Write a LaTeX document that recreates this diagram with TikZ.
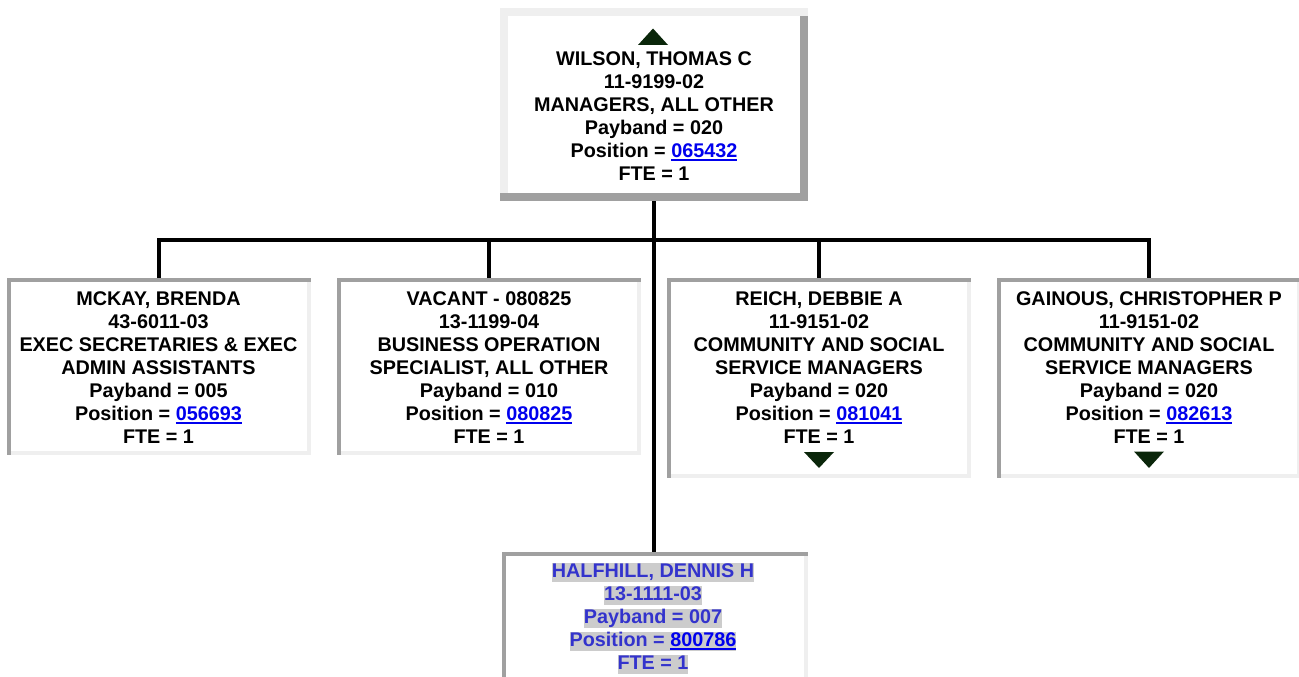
\documentclass[tikz,border=0pt]{standalone}
\usepackage{fontspec}
\setmainfont{Liberation Sans}
\definecolor{darkb}{HTML}{A0A0A0}
\definecolor{lightb}{HTML}{EFEFEF}
\definecolor{linkblue}{HTML}{0000EE}
\definecolor{hltext}{HTML}{3333CC}
\definecolor{hlgray}{HTML}{CCCCCC}
\definecolor{arrowgreen}{HTML}{0A260A}
\newsavebox\lnkbox
\newcommand\lnk[1]{\sbox\lnkbox{\color{linkblue}#1}{\color{linkblue}\rlap{\rule[-4pt]{\wd\lnkbox}{2pt}}}\usebox\lnkbox}
\newcommand\hlline[1]{{\setlength{\fboxsep}{0pt}\colorbox{hlgray}{\rule[-5pt]{0pt}{19pt}#1}}}
\newcommand\fs{\rule{0pt}{15pt}}
\begin{document}
\begin{tikzpicture}[x=1pt,y=-1pt,
  txt/.style={font=\fontsize{19.8}{23}\selectfont\bfseries, align=center, inner sep=0pt, outer sep=0pt, anchor=north},
  childbox/.style={minimum width=304pt, inner sep=0pt, outer sep=0pt, fill=white,
    path picture={
      \fill[lightb] (path picture bounding box.south west) rectangle ([yshift=4pt]path picture bounding box.south east);
      \fill[lightb] ([xshift=-4pt]path picture bounding box.south east) rectangle (path picture bounding box.north east);
      \fill[darkb] (path picture bounding box.north west) rectangle ([yshift=-4pt]path picture bounding box.north east);
      \fill[darkb] (path picture bounding box.north west) rectangle ([xshift=4pt]path picture bounding box.south west);
    }},
  topbox/.style={minimum width=308pt, minimum height=193pt, inner sep=0pt, outer sep=0pt, fill=white,
    path picture={
      \fill[lightb] (path picture bounding box.north west) rectangle ([yshift=-8pt]path picture bounding box.north east);
      \fill[lightb] (path picture bounding box.north west) rectangle ([xshift=8pt]path picture bounding box.south west);
      \fill[darkb] ([xshift=-8pt,yshift=-8pt]path picture bounding box.north east) rectangle (path picture bounding box.south east);
      \fill[darkb] (path picture bounding box.south west) rectangle ([yshift=8pt]path picture bounding box.south east);
    }},
  conn/.style={line width=4pt, black, line join=miter},
  tri/.style={fill=arrowgreen}
]
\clip (0,0) rectangle (1299,677);
\fill[white] (0,0) rectangle (1299,677);

% boxes
\node[topbox] (top) at (654,104.5) {};
\node[childbox, minimum height=177pt] (b1) at (159,366.5) {};
\node[childbox, minimum height=177pt] (b2) at (489,366.5) {};
\node[childbox, minimum height=200pt] (b3) at (819,378) {};
\node[childbox, minimum height=200pt] (b4) at (1149,378) {};
\node[childbox, minimum width=306pt, minimum height=200pt] (b5) at (655,652) {};

% connectors
\coordinate (bus) at (654,239.5);
\draw[conn] (top.south) -- (top.south |- b5.north);
\draw[conn] (b1.north) |- (bus) -| (b4.north);
\draw[conn] (b2.north) -- (b2.north |- bus);
\draw[conn] (b3.north) -- (b3.north |- bus);

% texts
\node[txt] (t0) at (654,50) {\fs WILSON, THOMAS C\\11-9199-02\\MANAGERS, ALL OTHER\\Payband = 020\\Position = \lnk{065432}\\FTE = 1};
\node[txt] (t1) at (158.5,290) {\fs MCKAY, BRENDA\\43-6011-03\\EXEC SECRETARIES \& EXEC\\ADMIN ASSISTANTS\\Payband = 005\\Position = \lnk{056693}\\FTE = 1};
\node[txt] (t2) at (489,290) {\fs VACANT - 080825\\13-1199-04\\BUSINESS OPERATION\\SPECIALIST, ALL OTHER\\Payband = 010\\Position = \lnk{080825}\\FTE = 1};
\node[txt] (t3) at (819,290) {\fs REICH, DEBBIE A\\11-9151-02\\COMMUNITY AND SOCIAL\\SERVICE MANAGERS\\Payband = 020\\Position = \lnk{081041}\\FTE = 1};
\node[txt] (t4) at (1149,290) {\fs GAINOUS, CHRISTOPHER P\\11-9151-02\\COMMUNITY AND SOCIAL\\SERVICE MANAGERS\\Payband = 020\\Position = \lnk{082613}\\FTE = 1};
\node[txt, text=hltext] (t5) at (653,563) {\hlline{HALFHILL, DENNIS H}\\\hlline{13-1111-03}\\\hlline{Payband = 007}\\\hlline{Position = \lnk{800786}}\\\hlline{FTE = 1}};

% expand / collapse arrows
\fill[tri] (638,45) -- (653,28.5) -- (668,45) -- cycle;
\fill[tri] (804,452) -- (834,452) -- (819,468) -- cycle;
\fill[tri] (1134,451.5) -- (1164,451.5) -- (1149,468) -- cycle;
\end{tikzpicture}
\end{document}
